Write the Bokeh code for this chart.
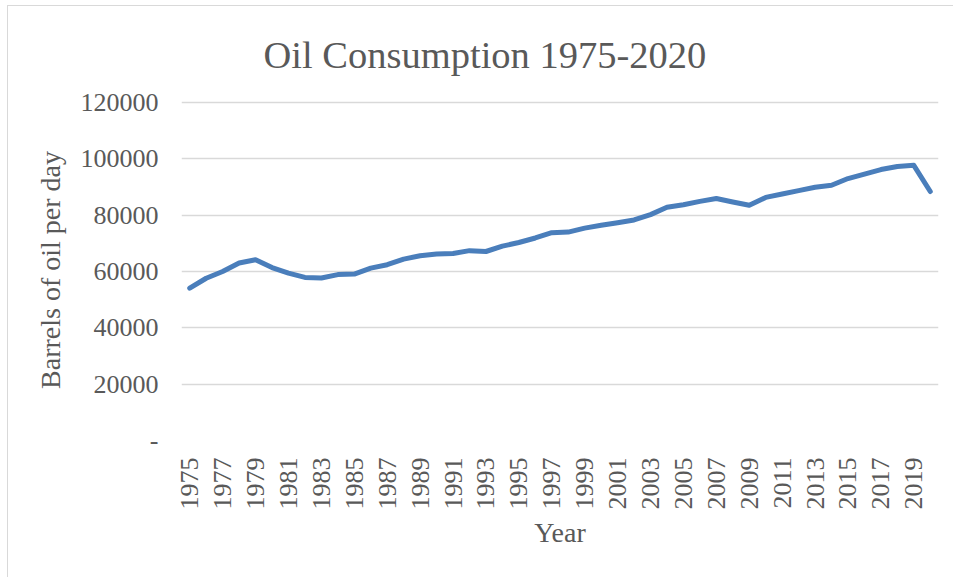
import math
from bokeh.plotting import figure
from bokeh.models import Range1d, FixedTicker, Title
from bokeh.embed import file_html
from bokeh.resources import INLINE

years = [1975, 1976, 1977, 1978, 1979, 1980, 1981, 1982, 1983, 1984,
         1985, 1986, 1987, 1988, 1989, 1990, 1991, 1992, 1993, 1994,
         1995, 1996, 1997, 1998, 1999, 2000, 2001, 2002, 2003, 2004,
         2005, 2006, 2007, 2008, 2009, 2010, 2011, 2012, 2013, 2014,
         2015, 2016, 2017, 2018, 2019, 2020]
consumption = [54100, 57600, 60000, 63000, 64200, 61400, 59400, 57900, 57700, 58900,
               59100, 61200, 62400, 64400, 65600, 66200, 66400, 67400, 67100, 69000,
               70300, 71900, 73800, 74000, 75400, 76400, 77300, 78300, 80200, 82800,
               83700, 84900, 85900, 84700, 83500, 86300, 87500, 88700, 89900, 90600,
               93000, 94600, 96200, 97300, 97700, 88400]
x_ticks = [1975, 1977, 1979, 1981, 1983, 1985, 1987, 1989, 1991, 1993, 1995, 1997,
           1999, 2001, 2003, 2005, 2007, 2009, 2011, 2013, 2015, 2017, 2019]
y_ticks = [0, 20000, 40000, 60000, 80000, 100000, 120000]
y_tick_labels = ["-", "20000", "40000", "60000", "80000", "100000", "120000"]
title_text = "Oil Consumption 1975-2020"

FONT = "Liberation Serif"
TXT = "#595959"

p = figure(width=946, height=572, output_backend="svg", toolbar_location=None,
           x_range=Range1d(1974.5, 2020.5), y_range=Range1d(0, 121065),
           min_border_left=173, min_border_right=16, min_border_top=93,
           min_border_bottom=138)
p.styles = {"border-top": "1px solid #d9d9d9", "border-left": "1px solid #d9d9d9",
            "margin-top": "5px", "margin-left": "7px"}
p.outline_line_color = None
p.background_fill_color = "white"
p.border_fill_color = "white"

p.line(years, consumption, line_color="#4a7ebb", line_width=5,
       line_cap="round", line_join="round")

p.xgrid.visible = False
p.ygrid.grid_line_color = "#d9d9d9"
p.ygrid.grid_line_width = 1.5
p.ygrid.ticker = FixedTicker(ticks=y_ticks)

for ax in (p.xaxis[0], p.yaxis[0]):
    ax.axis_line_color = None
    ax.major_tick_line_color = None
    ax.minor_tick_line_color = None
    ax.major_tick_out = 0
    ax.major_tick_in = 0
    ax.minor_tick_out = 0
    ax.major_label_text_font = FONT
    ax.major_label_text_font_size = "26px"
    ax.major_label_text_color = TXT
    ax.axis_label_text_font = FONT
    ax.axis_label_text_font_size = "28px"
    ax.axis_label_text_color = TXT
    ax.axis_label_text_font_style = "normal"

p.yaxis.ticker = FixedTicker(ticks=y_ticks)
p.yaxis.major_label_overrides = {t: l for t, l in zip(y_ticks, y_tick_labels)}
p.yaxis.major_label_standoff = 23
p.yaxis.axis_label = "Barrels of oil per day"
p.yaxis.axis_label_standoff = 12

p.xaxis.ticker = FixedTicker(ticks=x_ticks)
p.xaxis.major_label_orientation = math.pi / 2
p.xaxis.major_label_standoff = 17
p.xaxis.axis_label = "Year"
p.xaxis.axis_label_standoff = 4

title = Title(text=title_text, align="left", offset=82,
              text_font=FONT, text_font_size="38.5px", text_color=TXT,
              text_font_style="normal", standoff=48)
p.add_layout(title, "above")

open("out.html", "w").write(file_html(p, INLINE))
